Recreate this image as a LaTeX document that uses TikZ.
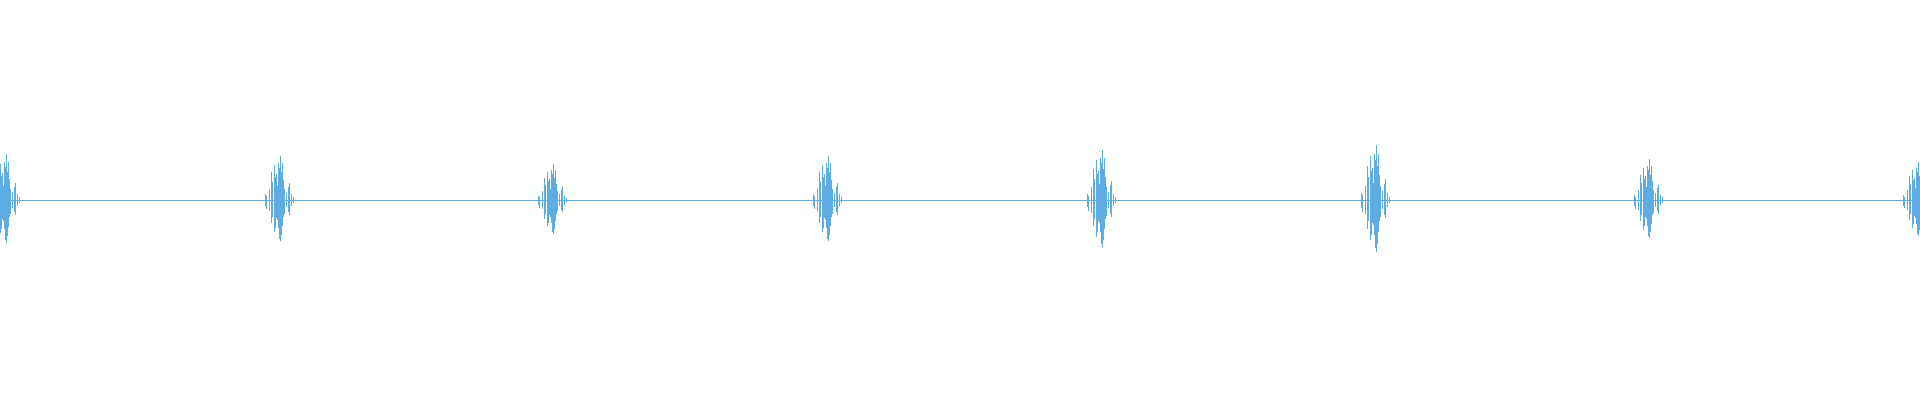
\documentclass[tikz,border=0pt]{standalone}
\definecolor{wave}{HTML}{5DADE2}
\tikzset{wv/.style={draw=wave,line width=0.8pt},
burst/.pic={
 \foreach \dx/\u/\d in {-15/6/7,-14/4/10,-11/12/12,-9/30/25,-8/20/18,-6/38/35,-5/25/30,-4/28/20,-3/15/22,-2/40/30,-1/35/42,0/48/45,1/30/38,2/40/28,3/22/18,4/12/15,6/8/8,8/14/13,9/18/16,11/6/6,13/3/3}
   \draw[wv] (\dx,\u*\s) -- (\dx,-\d*\s);
}}
\begin{document}
\begin{tikzpicture}[x=1pt,y=1pt]
\useasboundingbox (0,0) rectangle (1920,400);
\coordinate (l) at (0,200); \coordinate (r) at (1920,200);
\draw[wv,line width=0.9pt] (l) -- (r);
\foreach \cx/\s in {6/0.95,280/0.92,553/0.75,828/0.92,1102/1.05,1376/1.15,1649/0.85,1918/0.8}
  \pic at (\cx,200) {burst};
\end{tikzpicture}
\end{document}
